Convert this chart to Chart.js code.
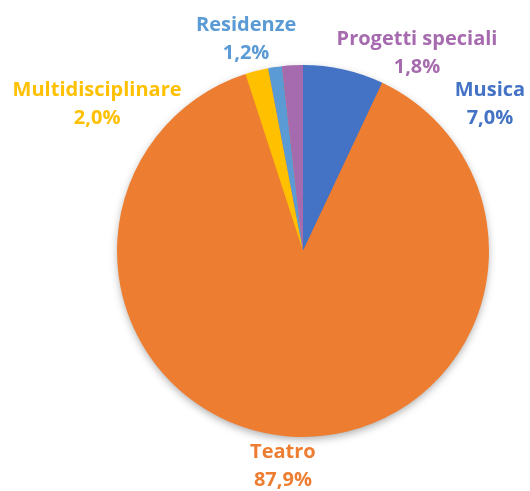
<!DOCTYPE html>
<html>
<head>
<meta charset="utf-8">
<script src="https://cdn.jsdelivr.net/npm/chart.js@4.4.1/dist/chart.umd.min.js"></script>
<style>
  html, body { margin: 0; padding: 0; background: #fff; }
  #wrap { width: 530px; height: 491px; }
</style>
</head>
<body>
<div id="wrap"><canvas id="pieChart" width="530" height="491"></canvas></div>
<script>
'use strict';

// categories and shares (%)
const categories = ['Musica', 'Teatro', 'Multidisciplinare', 'Residenze', 'Progetti speciali'];
const shares = [7.0, 87.9, 2.0, 1.2, 1.8];

const sliceColors = ['#4472C4', '#ED7D31', '#FFC000', '#5B9BD5', '#A66AAE'];

// where each label sits, in units of the pie radius, from the pie centre
const labelOffsets = [
  [1.005, -0.79],
  [-0.108, 1.16],
  [-1.107, -0.79],
  [-0.306, -1.14],
  [0.613, -1.065]
];

const formatShare = v => v.toFixed(1).replace('.', ',') + '%';

// soft shadow under the whole pie
const pieShadow = {
  id: 'pieShadow',
  beforeDatasetsDraw(chart) {
    const arc = chart.getDatasetMeta(0).data[0];
    if (!arc) return;
    const c = chart.ctx;
    c.save();
    c.shadowColor = 'rgba(0,0,0,0.35)';
    c.shadowBlur = 9;
    c.shadowOffsetY = 3;
    c.beginPath();
    c.arc(arc.x, arc.y, arc.outerRadius - 1, 0, Math.PI * 2);
    c.fillStyle = '#ED7D31';
    c.fill();
    c.restore();
  }
};

// category + percentage labels around the pie
const outsideLabels = {
  id: 'outsideLabels',
  afterDatasetsDraw(chart) {
    const c = chart.ctx;
    const meta = chart.getDatasetMeta(0);
    c.save();
    c.font = 'bold 20px "Open Sans", sans-serif';
    c.textAlign = 'center';
    c.textBaseline = 'middle';
    meta.data.forEach((arc, i) => {
      const r = arc.outerRadius;
      const x = arc.x + labelOffsets[i][0] * r;
      const y = arc.y + labelOffsets[i][1] * r;
      c.fillStyle = sliceColors[i];
      c.fillText(categories[i], x, y - 14);
      c.fillText(formatShare(shares[i]), x, y + 14);
    });
    c.restore();
  }
};

const ctx = document.getElementById('pieChart').getContext('2d');

const pieChart = new Chart(ctx, {
  type: 'pie',
  data: {
    labels: categories,
    datasets: [{
      data: shares,
      backgroundColor: sliceColors,
      borderWidth: 0
    }]
  },
  options: {
    responsive: false,
    animation: false,
    layout: { padding: { top: 65, bottom: 54, left: 117, right: 41 } },
    plugins: {
      legend: { display: false },
      tooltip: { enabled: false }
    }
  },
  plugins: [pieShadow, outsideLabels]
});
</script>
</body>
</html>
